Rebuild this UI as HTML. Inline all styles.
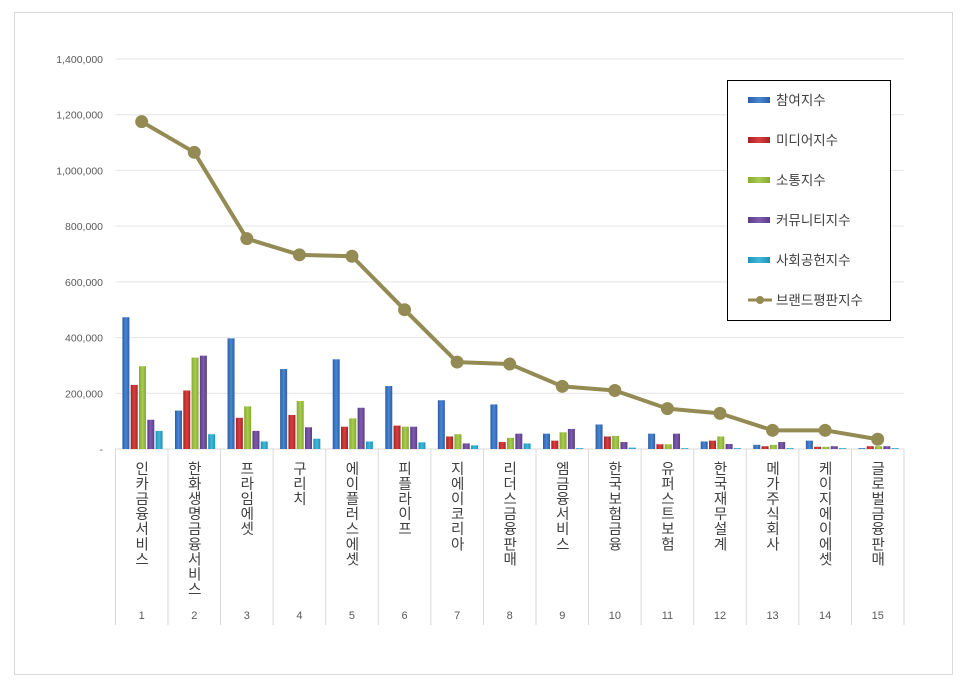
<!DOCTYPE html>
<html><head><meta charset="utf-8"><style>
body{margin:0;background:#fff;}
svg text{font-family:"Liberation Sans","Noto Sans CJK KR",sans-serif;}
</style></head><body>
<svg width="966" height="685" xmlns="http://www.w3.org/2000/svg">
<defs>
<linearGradient id="gb" x1="0" x2="1"><stop offset="0" stop-color="#2a5ea8"/><stop offset="0.5" stop-color="#4a86d0"/><stop offset="1" stop-color="#2a5ea8"/></linearGradient>
<linearGradient id="gr" x1="0" x2="1"><stop offset="0" stop-color="#a82222"/><stop offset="0.5" stop-color="#d84040"/><stop offset="1" stop-color="#a82222"/></linearGradient>
<linearGradient id="gg" x1="0" x2="1"><stop offset="0" stop-color="#86aa30"/><stop offset="0.5" stop-color="#a8cc50"/><stop offset="1" stop-color="#86aa30"/></linearGradient>
<linearGradient id="gp" x1="0" x2="1"><stop offset="0" stop-color="#5a3c88"/><stop offset="0.5" stop-color="#7e5cae"/><stop offset="1" stop-color="#5a3c88"/></linearGradient>
<linearGradient id="gc" x1="0" x2="1"><stop offset="0" stop-color="#1c94b8"/><stop offset="0.5" stop-color="#40b8d8"/><stop offset="1" stop-color="#1c94b8"/></linearGradient>
</defs>
<rect x="14.5" y="12.5" width="938" height="662" fill="#fff" stroke="#d9d9d9"/>
<g id="grid"></g><g id="yaxis"></g><g id="xaxis"></g><g id="bars"></g><g id="line"></g>
<g>
<rect x="727.5" y="80.5" width="163" height="240" fill="#fff" stroke="#000"/>
<g id="legend"></g>
</g>
</svg>
<script>
const categories=["인카금융서비스","한화생명금융서비스","프라임에셋","구리치","에이플러스에셋","피플라이프","지에이코리아","리더스금융판매","엠금융서비스","한국보험금융","유퍼스트보험","한국재무설계","메가주식회사","케이지에이에셋","글로벌금융판매"];
const participation=[473000,138000,397000,287000,322000,226000,175000,160000,55000,88000,55000,27000,15000,30000,3000];
const media=[230000,210000,112000,122000,80000,84000,45000,25000,30000,45000,17000,30000,10000,8000,10000];
const communication=[297000,328000,153000,172000,110000,80000,53000,40000,60000,47000,17000,45000,15000,8000,10000];
const community=[105000,335000,65000,78000,148000,80000,20000,55000,72000,25000,55000,18000,25000,10000,10000];
const social=[65000,53000,27000,37000,27000,24000,13000,20000,3000,5000,3000,3000,3000,3000,3000];
const brand=[1175000,1065000,755000,697000,692000,500000,312000,305000,225000,210000,145000,128000,67000,67000,35000];
const yTicks=[0,200000,400000,600000,800000,1000000,1200000,1400000];
const yTickLabels=["-","200,000","400,000","600,000","800,000","1,000,000","1,200,000","1,400,000"];
const seriesNames=["참여지수","미디어지수","소통지수","커뮤니티지수","사회공헌지수","브랜드평판지수"];
const NS="http://www.w3.org/2000/svg";
const L=115.4,R=904,Y0=449,Y1=59,MAX=1400000;
const cw=(R-L)/categories.length;
const y=v=>Y0-(v/MAX)*(Y0-Y1);
const xc=i=>L+cw*(i+0.5);
function mk(tag,attrs,parent){const e=document.createElementNS(NS,tag);for(const k in attrs)e.setAttribute(k,attrs[k]);parent.appendChild(e);return e;}
const grid=document.getElementById('grid'),yax=document.getElementById('yaxis'),xax=document.getElementById('xaxis'),bars=document.getElementById('bars'),line=document.getElementById('line'),leg=document.getElementById('legend');
yTicks.forEach((t,i)=>{
 const g=mk('line',{x1:L,x2:R,y1:y(t),y2:y(t),stroke:i==0?'#d9d9d9':'#e4e4e4','stroke-width':1},grid);
 
 
 const tx=mk('text',{x:103,y:y(t)+4,'text-anchor':'end','font-size':10.5,fill:'#595959'},yax);
 tx.textContent=yTickLabels[i];
 
 
});
for(let i=0;i<=categories.length;i++){
 const s=mk('line',{x1:L+cw*i,x2:L+cw*i,y1:Y0,y2:625,stroke:'#d9d9d9','stroke-width':1},xax);
 
 
}
categories.forEach((c,i)=>{
 const t=mk('text',{x:xc(i)-1,y:461,'font-size':14.5,fill:'#404040','writing-mode':'vertical-rl','text-orientation':'upright','letter-spacing':'0.6'},xax);
 t.textContent=c;
 
 
 const n=mk('text',{x:xc(i),y:619,'font-size':11,fill:'#595959','text-anchor':'middle'},xax);
 n.textContent=String(i+1);
 
 
});
const series=[participation,media,communication,community,social];
const fills=['url(#gb)','url(#gr)','url(#gg)','url(#gp)','url(#gc)'];
const bw=7,step=8.3;
series.forEach((arr,s)=>{
 arr.forEach((v,i)=>{
  const x=L+cw*i+7+s*step;
  const b=mk('rect',{x:x,y:y(v),width:bw,height:Y0-y(v),fill:fills[s]},bars);
  
  
 });
});
const pts=brand.map((v,i)=>xc(i)+','+y(v)).join(' ');
const pl=mk('polyline',{points:pts,fill:'none',stroke:'#948a54','stroke-width':4,'stroke-linejoin':'round'},line);


brand.forEach((v,i)=>{
 const c=mk('circle',{cx:xc(i),cy:y(v),r:6.5,fill:'#948a54'},line);
 
 
});
seriesNames.forEach((n,i)=>{
 const yy=100+i*40;
 if(i<5){
  const r=mk('rect',{x:748,y:yy-3,width:22,height:6,fill:fills[i]},leg);
  
  
 }else{
  const l=mk('line',{x1:748,x2:772,y1:yy,y2:yy,stroke:'#948a54','stroke-width':3},leg);
  
  
  const c=mk('circle',{cx:760,cy:yy,r:4,fill:'#948a54'},leg);
  
  
 }
 const t=mk('text',{x:776,y:yy+5,'font-size':13.5,fill:'#404040'},leg);
 t.textContent=n;
 
 
});
</script>
</body></html>
